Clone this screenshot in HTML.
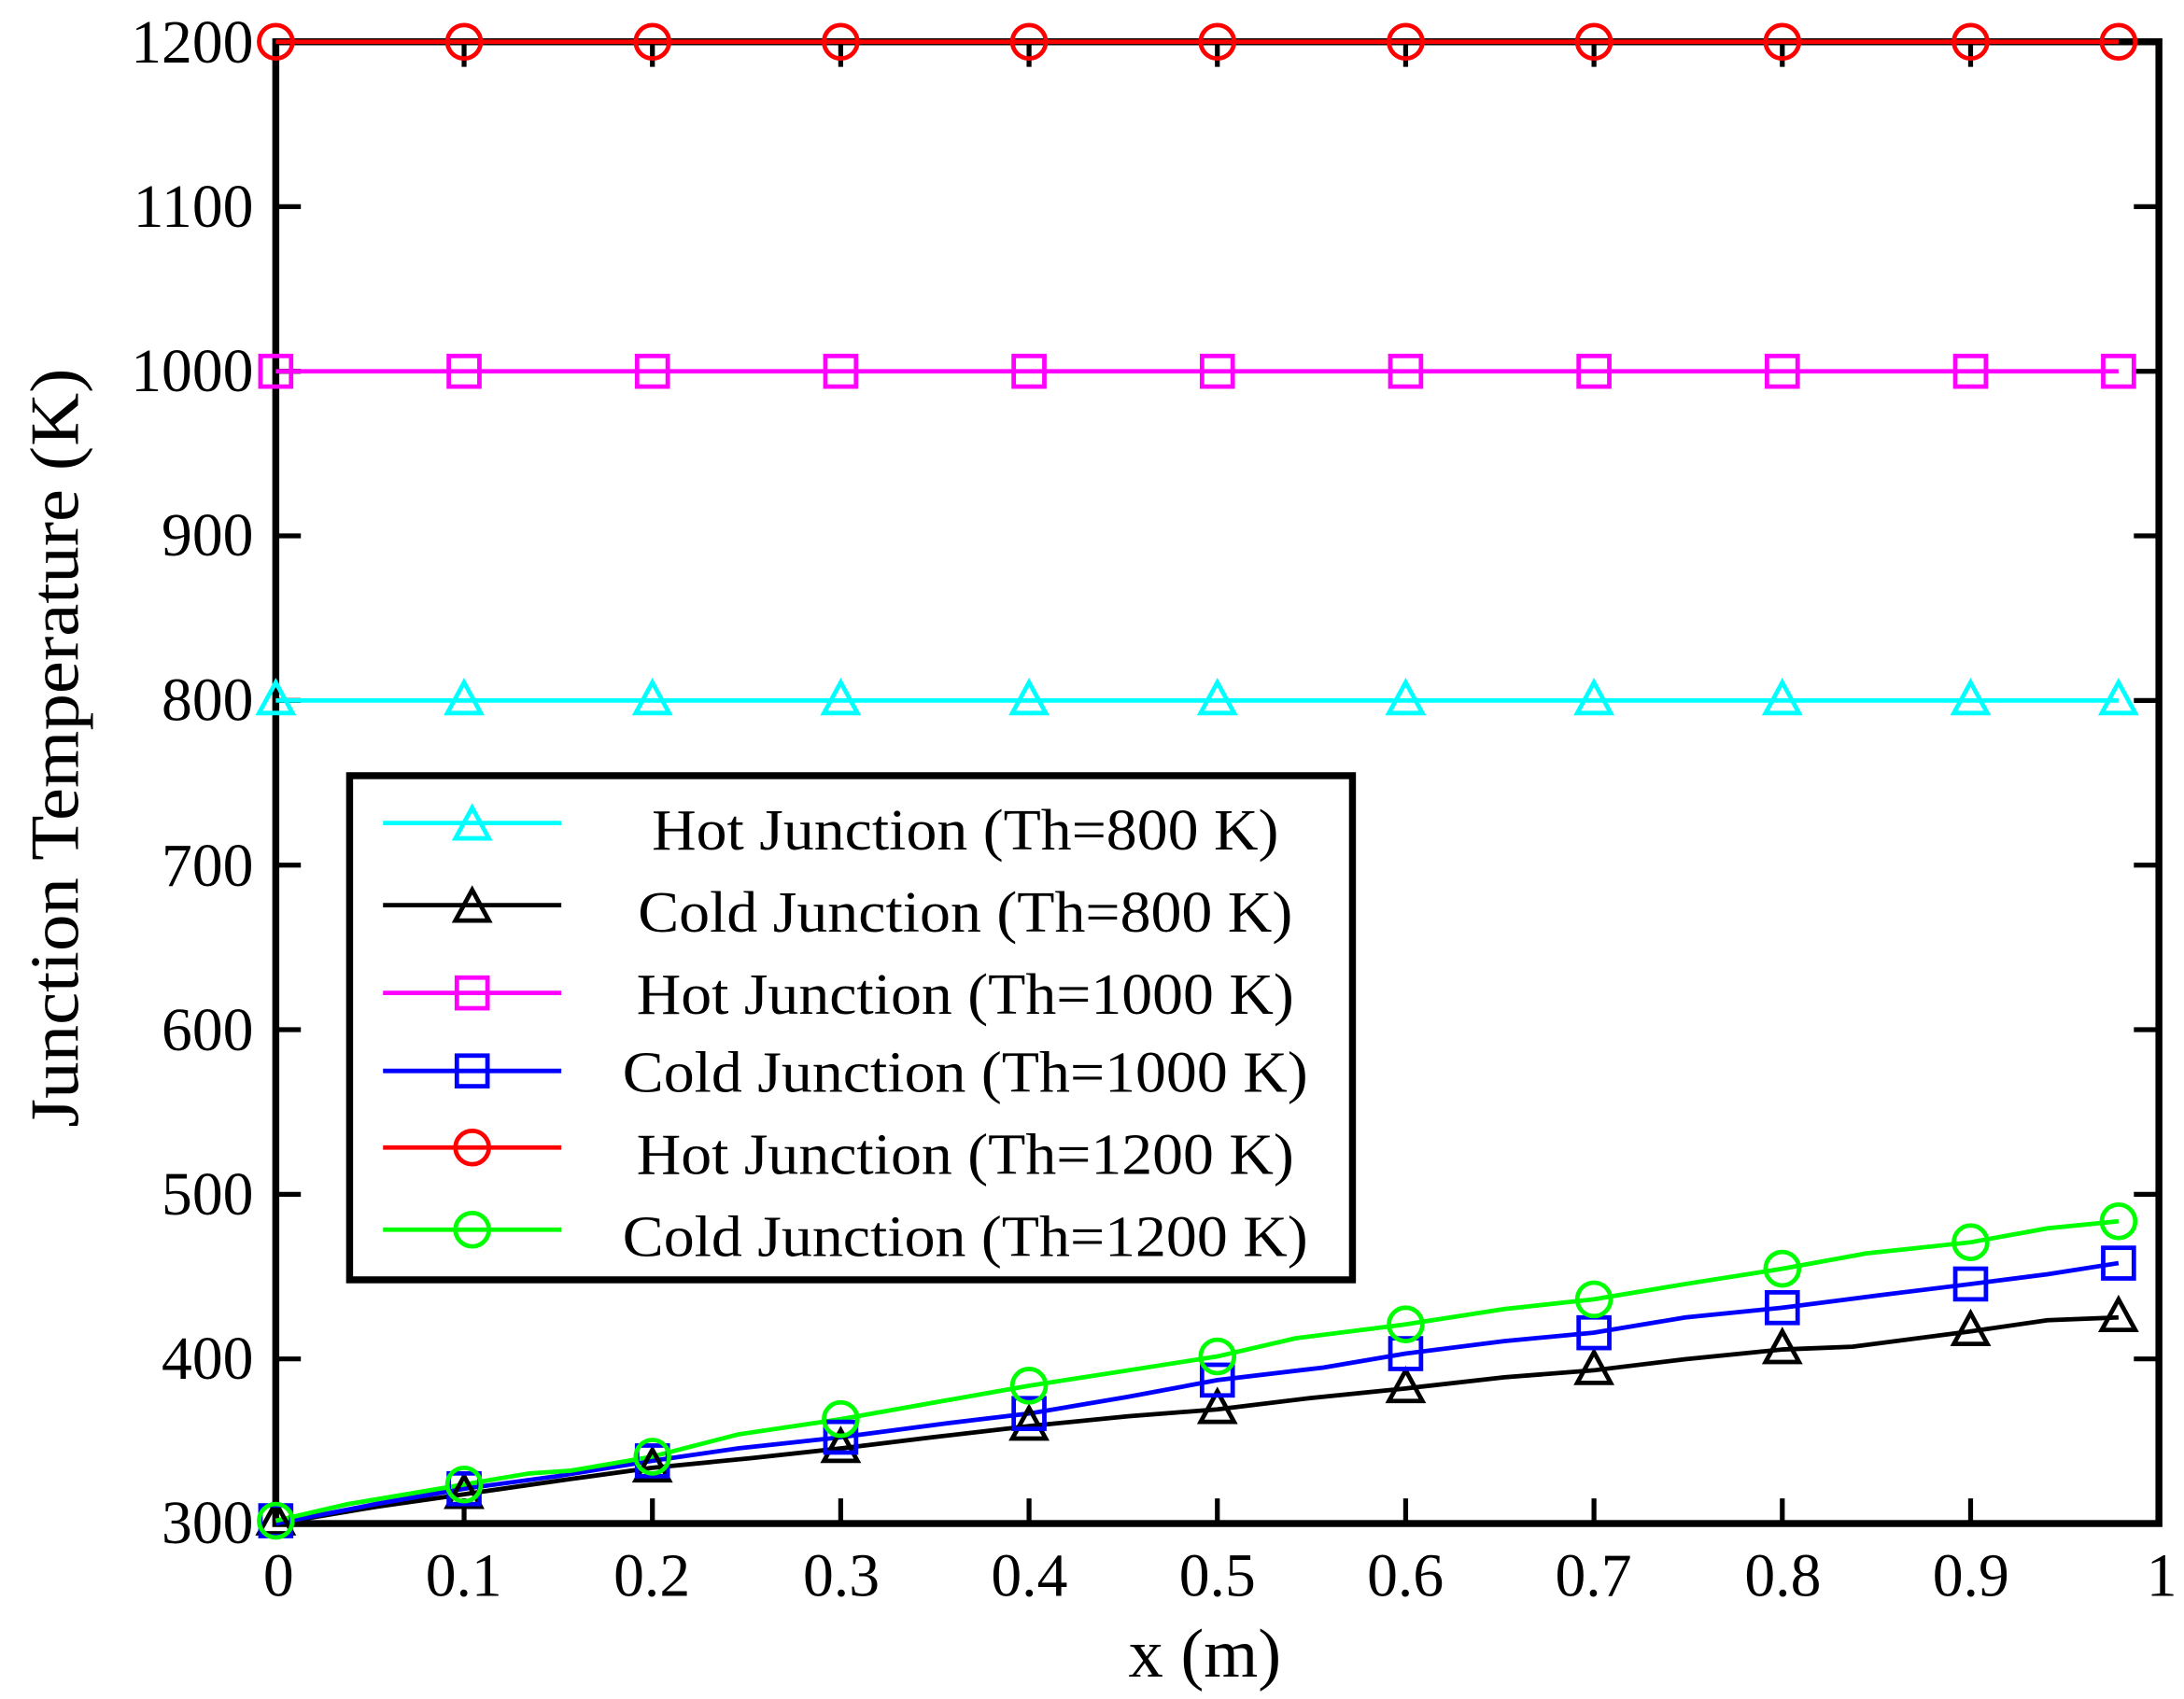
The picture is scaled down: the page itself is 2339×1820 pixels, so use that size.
<!DOCTYPE html>
<html><head><meta charset="utf-8"><style>html,body{margin:0;padding:0;background:#fff}svg{display:block}</style></head>
<body>
<svg width="2339" height="1820" viewBox="0 0 1568 1220" preserveAspectRatio="none" xmlns="http://www.w3.org/2000/svg" font-family="Liberation Serif, serif">
<defs>
<g id="tri"><polygon points="0,-13 12,9 -12,9" fill="none" stroke-width="3.2"/></g>
</defs>
<rect width="1568" height="1220" fill="#fff"/>
<!-- frame -->
<g stroke="#000" stroke-width="5" fill="none">
<rect x="198" y="30" width="1352" height="1064"/>
</g>
<g stroke="#000" stroke-width="3.5">
<!-- y ticks -->
<path d="M198,975.8h18M198,857.6h18M198,739.4h18M198,621.2h18M198,503h18M198,384.8h18M198,266.6h18M198,148.4h18"/>
<path d="M1550,975.8h-18M1550,857.6h-18M1550,739.4h-18M1550,621.2h-18M1550,503h-18M1550,384.8h-18M1550,266.6h-18M1550,148.4h-18"/>
<path d="M333.2,1094v-18M468.4,1094v-18M603.6,1094v-18M738.8,1094v-18M874,1094v-18M1009.2,1094v-18M1144.4,1094v-18M1279.6,1094v-18M1414.8,1094v-18"/>
<path d="M333.2,30v18M468.4,30v18M603.6,30v18M738.8,30v18M874,30v18M1009.2,30v18M1144.4,30v18M1279.6,30v18M1414.8,30v18"/>
</g>
<g font-size="44" text-anchor="end" fill="#000">
<text x="182" y="1108">300</text><text x="182" y="990">400</text><text x="182" y="872">500</text><text x="182" y="754">600</text><text x="182" y="636">700</text><text x="182" y="517">800</text><text x="182" y="399">900</text><text x="182" y="281">1000</text><text x="182" y="163">1100</text><text x="182" y="45">1200</text>
</g>
<g font-size="44" text-anchor="middle" fill="#000">
<text x="200" y="1146">0</text><text x="333" y="1146">0.1</text><text x="468" y="1146">0.2</text><text x="604" y="1146">0.3</text><text x="739" y="1146">0.4</text><text x="874" y="1146">0.5</text><text x="1009" y="1146">0.6</text><text x="1144" y="1146">0.7</text><text x="1280" y="1146">0.8</text><text x="1415" y="1146">0.9</text><text x="1552" y="1146">1</text>
</g>
<text x="865" y="1204" font-size="50" text-anchor="middle">x (m)</text>
<text transform="translate(56,537) rotate(-90)" font-size="50" text-anchor="middle" textLength="545" lengthAdjust="spacingAndGlyphs">Junction Temperature (K)</text>

<!-- hot lines -->
<line x1="198" y1="30" x2="1521" y2="30" stroke="#f00" stroke-width="3.2"/>
<line x1="198" y1="266.6" x2="1521" y2="266.6" stroke="#f0f" stroke-width="3.2"/>
<line x1="198" y1="503" x2="1521" y2="503" stroke="#0ff" stroke-width="3.2"/>
<g fill="none" stroke="#f00" stroke-width="3.2">
<circle cx="198" cy="30" r="12"/><circle cx="333.2" cy="30" r="12"/><circle cx="468.4" cy="30" r="12"/><circle cx="603.6" cy="30" r="12"/><circle cx="738.8" cy="30" r="12"/><circle cx="874" cy="30" r="12"/><circle cx="1009.2" cy="30" r="12"/><circle cx="1144.4" cy="30" r="12"/><circle cx="1279.6" cy="30" r="12"/><circle cx="1414.8" cy="30" r="12"/><circle cx="1521" cy="30" r="12"/>
</g>
<g fill="none" stroke="#f0f" stroke-width="3.2">
<rect x="187" y="255.6" width="22" height="22"/><rect x="322.2" y="255.6" width="22" height="22"/><rect x="457.4" y="255.6" width="22" height="22"/><rect x="592.6" y="255.6" width="22" height="22"/><rect x="727.8" y="255.6" width="22" height="22"/><rect x="863" y="255.6" width="22" height="22"/><rect x="998.2" y="255.6" width="22" height="22"/><rect x="1133.4" y="255.6" width="22" height="22"/><rect x="1268.6" y="255.6" width="22" height="22"/><rect x="1403.8" y="255.6" width="22" height="22"/><rect x="1510" y="255.6" width="22" height="22"/>
</g>
<g stroke="#0ff">
<use href="#tri" x="198" y="503"/><use href="#tri" x="333.2" y="503"/><use href="#tri" x="468.4" y="503"/><use href="#tri" x="603.6" y="503"/><use href="#tri" x="738.8" y="503"/><use href="#tri" x="874" y="503"/><use href="#tri" x="1009.2" y="503"/><use href="#tri" x="1144.4" y="503"/><use href="#tri" x="1279.6" y="503"/><use href="#tri" x="1414.8" y="503"/><use href="#tri" x="1521" y="503"/>
</g>

<!-- cold lines -->
<polyline fill="none" stroke="#000" stroke-width="3.2" points="198,1094 270,1082 333,1073 410,1062 468,1054 540,1047 604,1040 670,1032 739,1024 810,1017 874,1012 940,1004 1009,997 1080,989 1144,984 1210,976 1280,969 1330,967 1415,956 1470,948 1521,946"/>
<polyline fill="none" stroke="#00f" stroke-width="3.2" points="198,1094 270,1080 333,1069 400,1060 468,1049 530,1040 604,1032 680,1022 739,1015 810,1003 874,991 950,982 1009,972 1080,963 1144,957 1210,946 1280,939 1350,930 1415,922 1470,915 1521,907"/>
<polyline fill="none" stroke="#0f0" stroke-width="3.2" points="198,1092 250,1080 333,1066 380,1058 410,1056 468,1046 530,1030 604,1019 660,1009 739,995 810,984 874,974 930,961 1009,951 1080,940 1144,933 1210,922 1280,911 1340,900 1415,892 1470,882 1521,877"/>
<g stroke="#000">
<use href="#tri" x="198" y="1092"/><use href="#tri" x="333.2" y="1073"/><use href="#tri" x="468.4" y="1054"/><use href="#tri" x="603.6" y="1040"/><use href="#tri" x="738.8" y="1024"/><use href="#tri" x="874" y="1012"/><use href="#tri" x="1009.2" y="997"/><use href="#tri" x="1144.4" y="984"/><use href="#tri" x="1279.6" y="969"/><use href="#tri" x="1414.8" y="956"/><use href="#tri" x="1521" y="946"/>
</g>
<g fill="none" stroke="#00f" stroke-width="3.2">
<rect x="187" y="1081" width="22" height="22"/><rect x="322.2" y="1058" width="22" height="22"/><rect x="457.4" y="1038" width="22" height="22"/><rect x="592.6" y="1021" width="22" height="22"/><rect x="727.8" y="1004" width="22" height="22"/><rect x="863" y="980" width="22" height="22"/><rect x="998.2" y="961" width="22" height="22"/><rect x="1133.4" y="946" width="22" height="22"/><rect x="1268.6" y="928" width="22" height="22"/><rect x="1403.8" y="911" width="22" height="22"/><rect x="1510" y="896" width="22" height="22"/>
</g>
<g fill="none" stroke="#0f0" stroke-width="3.2">
<circle cx="198" cy="1092" r="12"/><circle cx="333.2" cy="1066" r="12"/><circle cx="468.4" cy="1046" r="12"/><circle cx="603.6" cy="1019" r="12"/><circle cx="738.8" cy="995" r="12"/><circle cx="874" cy="974" r="12"/><circle cx="1009.2" cy="951" r="12"/><circle cx="1144.4" cy="933" r="12"/><circle cx="1279.6" cy="911" r="12"/><circle cx="1414.8" cy="892" r="12"/><circle cx="1521" cy="877" r="12"/>
</g>

<!-- legend -->
<rect x="251" y="557" width="720" height="362" fill="#fff" stroke="#000" stroke-width="5"/>
<g stroke-width="3.2">
<line x1="275" y1="591" x2="403" y2="591" stroke="#0ff"/><use href="#tri" x="339" y="593" stroke="#0ff"/>
<line x1="275" y1="650" x2="403" y2="650" stroke="#000"/><use href="#tri" x="339" y="652" stroke="#000"/>
<line x1="275" y1="713" x2="403" y2="713" stroke="#f0f"/><rect x="328" y="702" width="22" height="22" fill="none" stroke="#f0f"/>
<line x1="275" y1="769" x2="403" y2="769" stroke="#00f"/><rect x="328" y="758" width="22" height="22" fill="none" stroke="#00f"/>
<line x1="275" y1="824" x2="403" y2="824" stroke="#f00"/><circle cx="339" cy="824" r="12" fill="none" stroke="#f00"/>
<line x1="275" y1="883" x2="403" y2="883" stroke="#0f0"/><circle cx="339" cy="883" r="12" fill="none" stroke="#0f0"/>
</g>
<g font-size="42" fill="#000" text-anchor="middle" lengthAdjust="spacingAndGlyphs">
<text x="693" y="610" textLength="450" lengthAdjust="spacingAndGlyphs">Hot Junction (Th=800 K)</text>
<text x="693" y="669" textLength="470" lengthAdjust="spacingAndGlyphs">Cold Junction (Th=800 K)</text>
<text x="693" y="728" textLength="472" lengthAdjust="spacingAndGlyphs">Hot Junction (Th=1000 K)</text>
<text x="693" y="784" textLength="492" lengthAdjust="spacingAndGlyphs">Cold Junction (Th=1000 K)</text>
<text x="693" y="843" textLength="472" lengthAdjust="spacingAndGlyphs">Hot Junction (Th=1200 K)</text>
<text x="693" y="902" textLength="492" lengthAdjust="spacingAndGlyphs">Cold Junction (Th=1200 K)</text>
</g>
</svg>
</body></html>
